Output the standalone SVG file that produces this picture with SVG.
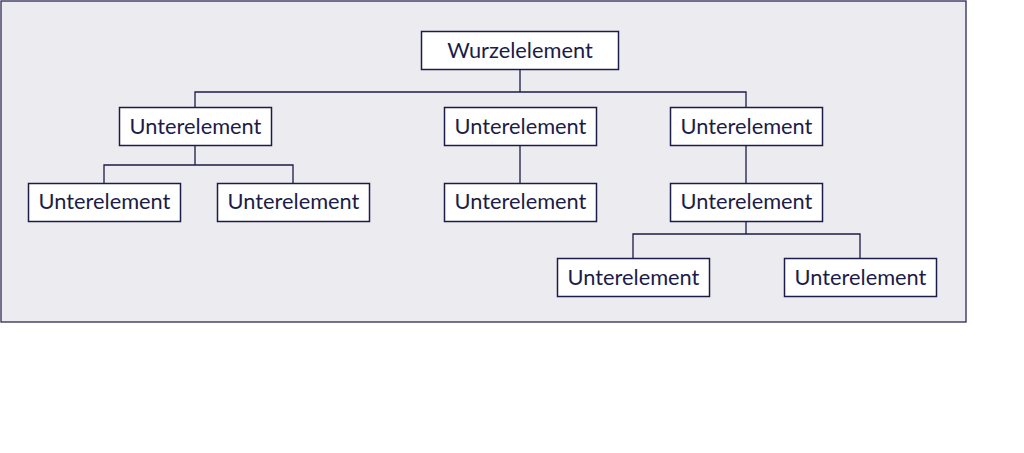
<svg xmlns="http://www.w3.org/2000/svg" width="1024" height="453" viewBox="0 0 1024 453">
<style>
.n rect{fill:#ffffff;stroke:#1c1c48;stroke-width:1.5}
.n text{font-family:Lato,"Liberation Sans",sans-serif;font-size:21.8px;fill:#1c1c48;text-anchor:middle;dominant-baseline:central}
.c path{fill:none;stroke:#1c1c48;stroke-width:1.3}
</style>
<rect x="1" y="1" width="965" height="321" fill="#ecebf0" stroke="#2a2a55" stroke-width="1.3"/>
<g class="c">
<path d="M520 69V92M195 107V92H746V107"/>
<path d="M195 145V165M104 183V165H293V183"/>
<path d="M520 145V183"/>
<path d="M746 145V183"/>
<path d="M746 221V234M633 258V234H860V258"/>
</g>
<g class="n" id="root"><rect x="421.5" y="31.5" width="197" height="38"/><text x="520" y="49">Wurzelelement</text></g>
<g class="n" id="a"><rect x="119.5" y="107.5" width="152" height="38"/><text x="195.5" y="125">Unterelement</text></g>
<g class="n" id="b"><rect x="444.5" y="107.5" width="152" height="38"/><text x="520.5" y="125">Unterelement</text></g>
<g class="n" id="c"><rect x="670.5" y="107.5" width="152" height="38"/><text x="746.5" y="125">Unterelement</text></g>
<g class="n" id="a1"><rect x="28.5" y="183.5" width="152" height="38"/><text x="104.5" y="200">Unterelement</text></g>
<g class="n" id="a2"><rect x="217.5" y="183.5" width="152" height="38"/><text x="293.5" y="200">Unterelement</text></g>
<g class="n" id="b1"><rect x="444.5" y="183.5" width="152" height="38"/><text x="520.5" y="200">Unterelement</text></g>
<g class="n" id="c1"><rect x="670.5" y="183.5" width="152" height="38"/><text x="746.5" y="200">Unterelement</text></g>
<g class="n" id="d1"><rect x="557.5" y="258.5" width="152" height="38"/><text x="633.5" y="276">Unterelement</text></g>
<g class="n" id="d2"><rect x="784.5" y="258.5" width="152" height="38"/><text x="860.5" y="276">Unterelement</text></g>
</svg>
